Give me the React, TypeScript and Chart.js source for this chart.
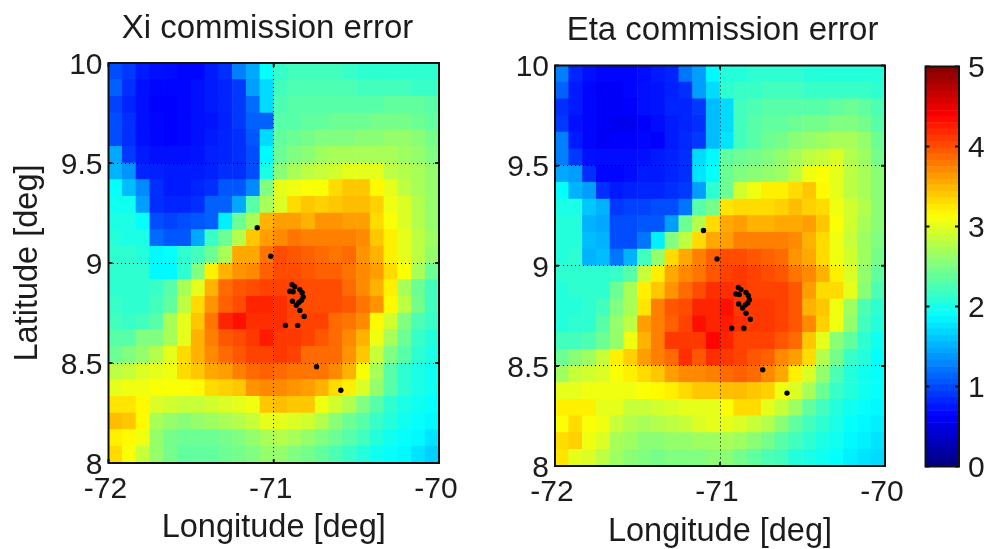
import React, { useEffect, useRef } from "react";
import { Chart, registerables } from "chart.js";

Chart.register(...registerables);

const lonCenters = [-71.958,-71.875,-71.792,-71.708,-71.625,-71.542,-71.458,-71.375,-71.292,-71.208,-71.125,-71.042,-70.958,-70.875,-70.792,-70.708,-70.625,-70.542,-70.458,-70.375,-70.292,-70.208,-70.125,-70.042];
const latEdges = [10,9.917,9.833,9.75,9.667,9.583,9.5,9.417,9.333,9.25,9.167,9.083,9,8.917,8.833,8.75,8.667,8.583,8.5,8.417,8.333,8.25,8.167,8.083,8];

const xiRows = [
[1.0,0.9,.75,.7,.68,.65,.65,.75,.85,1.25,1.45,1.9,2.15,2.2,2.2,2.2,2.2,2.15,2.1,2.1,2.1,2.1,2.1,2.1],
[1.1,.85,.7,.65,.65,.65,.7,.75,.8,.9,1.4,1.7,2.2,2.25,2.25,2.25,2.25,2.25,2.2,2.2,2.2,2.2,2.15,2.15],
[.95,.8,.7,.62,.62,.65,.7,.75,.8,.9,1.15,1.7,2.25,2.3,2.3,2.3,2.3,2.3,2.3,2.3,2.35,2.35,2.35,2.3],
[1.0,.85,.7,.65,.62,.65,.7,.72,.78,.9,1.1,1.1,2.3,2.3,2.35,2.35,2.4,2.4,2.4,2.45,2.45,2.45,2.4,2.35],
[1.0,.85,.7,.65,.62,.65,.7,.75,.8,.85,1.05,1.7,2.35,2.4,2.45,2.5,2.5,2.5,2.55,2.55,2.6,2.6,2.55,2.45],
[1.45,.9,.75,.7,.7,.7,.72,.78,.8,.85,1.0,1.85,2.4,2.5,2.55,2.65,2.7,2.7,2.7,2.7,2.7,2.65,2.6,2.5],
[1.5,1.35,.8,.78,.75,.75,.75,.78,.85,.85,1.0,2.0,2.55,2.7,2.8,2.85,2.9,3.0,3.0,3.0,2.8,2.75,2.7,2.6],
[1.9,1.55,1.3,.85,.75,.75,.8,.85,1.05,1.05,1.3,2.5,3.0,3.05,3.1,3.1,3.3,3.4,3.4,3.15,3.0,2.8,2.7,2.6],
[1.95,1.95,1.4,.85,.8,.8,.85,1.1,1.1,1.45,2.3,2.7,2.95,3.3,3.4,3.35,3.4,3.45,3.45,3.35,3.05,2.95,2.75,2.6],
[2.0,2.0,1.9,1.0,.95,1.0,1.05,1.1,1.8,2.4,2.7,3.5,3.6,3.6,3.5,3.65,3.65,3.6,3.6,3.3,3.1,2.95,2.75,2.6],
[2.05,2.0,2.0,1.15,1.05,1.05,1.45,2.15,2.4,2.75,3.4,3.6,3.7,3.8,3.75,3.75,3.75,3.75,3.7,3.4,3.2,3.0,2.8,2.65],
[2.1,2.1,2.05,1.85,1.9,2.1,2.2,2.4,2.7,3.55,3.55,3.8,4.0,3.95,3.9,3.85,3.8,3.85,3.65,3.5,3.2,3.0,2.8,2.6],
[2.1,2.1,2.1,1.85,1.85,2.1,2.5,3.2,3.5,3.65,3.7,3.9,4.0,4.0,3.95,3.9,3.9,3.8,3.7,3.6,3.3,3.1,2.7,2.4],
[2.1,2.1,2.1,2.15,2.3,2.7,3.0,3.5,3.85,3.95,4.0,4.05,4.05,4.05,4.0,4.0,4.0,3.85,3.7,3.5,3.2,2.7,2.4,2.2],
[2.15,2.1,2.1,2.2,2.35,2.8,3.3,3.65,3.9,4.0,4.2,4.2,4.15,4.05,4.0,4.0,4.0,3.95,3.8,3.65,3.15,2.8,2.45,2.2],
[2.2,2.15,2.2,2.3,2.7,3.0,3.4,3.8,4.2,4.3,4.15,4.15,4.15,4.05,4.05,4.05,3.85,3.8,3.7,3.15,2.9,2.5,2.25,2.15],
[2.3,2.3,2.5,2.5,2.7,3.0,3.5,3.75,3.95,4.0,4.1,4.25,4.1,4.1,4.05,3.95,3.85,3.7,3.5,3.05,2.7,2.4,2.15,2.05],
[2.4,2.5,2.6,2.75,3.0,3.3,3.5,3.7,3.85,3.95,4.05,4.05,4.1,4.05,3.85,3.85,3.85,3.65,3.4,2.85,2.5,2.3,2.1,2.0],
[2.8,2.85,2.95,3.0,3.05,3.3,3.4,3.55,3.6,3.75,3.85,3.9,3.85,3.8,3.8,3.8,3.7,3.5,3.1,2.7,2.3,2.1,2.0,1.95],
[3.0,3.05,3.05,3.1,3.1,3.1,3.15,3.3,3.35,3.4,3.65,3.7,3.7,3.65,3.6,3.5,3.3,3.2,2.95,2.6,2.3,2.1,2.0,1.95],
[3.25,3.25,3.15,2.95,2.9,2.85,2.85,2.9,2.95,3.0,3.05,3.4,3.45,3.4,3.4,3.05,2.9,2.75,2.5,2.3,2.1,2.0,1.95,1.9],
[3.45,3.4,3.15,2.7,2.6,2.55,2.6,2.65,2.7,2.75,2.85,3.0,3.0,2.95,2.9,2.75,2.55,2.4,2.3,2.15,2.05,1.95,1.9,1.85],
[3.2,3.15,3.05,2.6,2.45,2.4,2.4,2.4,2.45,2.5,2.6,2.7,2.75,2.7,2.6,2.5,2.4,2.3,2.2,2.05,1.95,1.9,1.85,1.75],
[3.3,3.1,2.85,2.6,2.45,2.35,2.35,2.35,2.4,2.45,2.5,2.6,2.6,2.5,2.45,2.35,2.25,2.15,2.05,1.95,1.9,1.85,1.75,1.65],
];

const etaRows = [
[1.25,.8,.7,.65,.65,.65,.68,.75,.8,1.2,1.4,1.85,2.05,2.05,2.1,2.1,2.1,2.1,2.05,2.05,2.05,2.05,2.05,2.05],
[1.1,.75,.65,.6,.6,.65,.7,.72,.78,.85,1.4,1.7,2.1,2.15,2.15,2.2,2.2,2.2,2.15,2.15,2.15,2.15,2.15,2.1],
[.85,.75,.65,.6,.6,.62,.7,.72,.8,.8,.9,1.55,1.7,2.2,2.25,2.3,2.3,2.3,2.3,2.3,2.35,2.4,2.35,2.25],
[.9,.7,.65,.6,.55,.55,.62,.68,.75,.8,.85,1.55,1.7,2.2,2.3,2.35,2.35,2.4,2.45,2.45,2.5,2.5,2.45,2.3],
[1.25,.75,.65,.58,.62,.62,.65,.62,.75,.82,.9,1.55,1.75,2.2,2.3,2.4,2.45,2.55,2.6,2.65,2.7,2.7,2.6,2.4],
[1.25,.9,.7,.68,.68,.68,.7,.75,.78,.85,1.7,1.85,2.35,2.4,2.45,2.5,2.6,2.7,2.8,2.85,2.95,2.75,2.65,2.45],
[1.45,1.4,.85,.65,.65,.68,.75,.75,.8,.85,1.75,1.9,2.4,2.5,2.55,2.6,2.65,2.8,3.05,3.1,3.0,2.8,2.7,2.55],
[1.9,1.5,1.4,.85,.75,.78,.8,.8,.85,.9,1.4,2.1,2.4,2.9,3.05,3.2,3.2,3.3,3.4,3.15,3.0,2.8,2.7,2.55],
[2.0,2.0,1.6,1.5,.9,.95,.95,1.0,1.0,1.2,2.3,2.45,3.25,3.3,3.3,3.3,3.35,3.45,3.35,3.3,3.05,2.9,2.75,2.55],
[2.05,2.05,1.5,1.45,1.0,1.0,1.05,1.05,1.4,2.4,2.75,3.3,3.55,3.6,3.5,3.5,3.55,3.55,3.6,3.4,3.1,2.9,2.7,2.55],
[2.05,2.05,1.55,1.5,1.0,1.0,1.2,1.8,2.5,2.8,3.3,3.55,3.6,3.75,3.75,3.75,3.75,3.7,3.5,3.3,3.05,2.85,2.65,2.5],
[2.05,2.1,1.5,1.55,1.2,1.5,2.2,2.6,3.3,3.55,3.75,3.9,4.0,4.0,3.95,3.9,3.85,3.65,3.55,3.3,3.05,2.9,2.65,2.45],
[2.1,2.1,2.1,2.1,2.15,2.3,2.85,3.2,3.55,3.7,3.8,3.95,4.05,4.1,4.05,4.0,3.95,3.8,3.7,3.5,3.2,2.95,2.6,2.35],
[2.05,2.1,2.1,2.1,2.4,2.7,3.2,3.4,3.65,3.85,4.0,4.15,4.15,4.1,4.05,4.05,4.05,3.95,3.6,3.3,3.3,3.0,2.55,2.25],
[2.05,2.05,2.1,2.2,2.5,2.7,3.25,3.75,3.95,4.0,4.2,4.2,4.3,4.1,4.1,4.1,4.05,3.95,3.5,3.4,3.05,2.65,2.25,2.1],
[2.05,2.1,2.1,2.3,2.6,2.8,3.6,3.75,3.9,4.05,4.3,4.2,4.25,4.15,4.1,4.1,4.05,3.95,3.7,3.35,3.05,2.6,2.2,2.05],
[2.2,2.2,2.25,2.4,2.6,3.05,3.5,3.75,4.1,4.1,4.1,4.35,4.2,4.05,4.05,4.05,3.95,3.85,3.4,3.0,2.55,2.35,2.1,1.95],
[2.4,2.55,2.65,2.85,3.2,3.35,3.6,3.75,3.85,4.15,3.95,4.15,4.1,4.05,3.95,3.9,3.7,3.6,3.3,2.75,2.45,2.15,2.05,1.9],
[2.65,2.85,2.9,2.95,3.1,3.2,3.3,3.4,3.6,3.7,3.7,3.75,3.85,3.9,3.85,3.7,3.55,3.2,2.95,2.6,2.25,2.05,1.95,1.9],
[3.0,3.0,3.05,3.05,3.05,3.05,3.1,3.15,3.2,3.3,3.4,3.4,3.45,3.45,3.4,3.35,3.05,2.95,2.7,2.4,2.15,2.05,1.95,1.9],
[3.2,3.2,3.2,3.0,3.0,2.85,2.85,2.9,2.95,3.0,3.0,3.0,3.1,3.3,3.3,3.0,2.85,2.65,2.35,2.2,2.05,1.95,1.9,1.85],
[3.1,3.3,3.1,3.05,2.85,2.75,2.7,2.75,2.8,2.85,2.95,3.0,3.0,2.95,2.85,2.75,2.55,2.35,2.2,2.1,2.0,1.9,1.85,1.8],
[3.3,3.35,3.05,2.95,2.7,2.65,2.55,2.55,2.6,2.6,2.65,2.65,2.7,2.65,2.55,2.45,2.3,2.2,2.1,2.0,1.95,1.85,1.8,1.75],
[3.25,3.0,2.95,2.8,2.65,2.55,2.5,2.45,2.5,2.5,2.5,2.55,2.55,2.45,2.35,2.25,2.2,2.05,2.0,1.95,1.9,1.8,1.75,1.7],
];

const stationLons = [-71.10,-71.018,-70.889,-70.873,-70.903,-70.883,-70.842,-70.828,-70.822,-70.832,-70.887,-70.847,-70.863,-70.842,-70.816,-70.929,-70.855,-70.741,-70.594];
const stationLats = [9.176,9.034,8.892,8.881,8.859,8.856,8.867,8.851,8.830,8.814,8.809,8.804,8.789,8.763,8.733,8.688,8.688,8.481,8.364];

const colorLevels = [0,0.08,0.16,0.23,0.31,0.39,0.47,0.55,0.63,0.70,0.78,0.86,0.94,1.02,1.09,1.17,1.25,1.33,1.41,1.48,1.56,1.64,1.72,1.80,1.88,1.95,2.03,2.11,2.19,2.27,2.34,2.42,2.50,2.58,2.66,2.73,2.81,2.89,2.97,3.05,3.13,3.20,3.28,3.36,3.44,3.52,3.59,3.67,3.75,3.83,3.91,3.98,4.06,4.14,4.22,4.30,4.38,4.45,4.53,4.61,4.69,4.77,4.84,4.92,5];

const FONT = "'Liberation Sans', Arial, sans-serif";
const INK = "#1c1c1c";
const TICK_SIZE = 30;
const LABEL_SIZE = 32.5;
const TITLE_SIZE = 33;

function jet(v: number): string {
  const t = Math.max(0, Math.min(1, v / 5));
  const c = (x: number) => Math.round(255 * Math.max(0, Math.min(1, 1.5 - Math.abs(4 * t - x))));
  return `rgb(${c(3)},${c(2)},${c(1)})`;
}

const framePlugin = {
  id: "frame",
  afterDraw(chart: any) {
    const { ctx, chartArea: a, scales } = chart;
    ctx.save();
    ctx.strokeStyle = "#111";
    ctx.lineWidth = 2;
    ctx.strokeRect(a.left, a.top, a.right - a.left, a.bottom - a.top);
    const tick = 4;
    const isBar = chart.options.plugins.frame?.colorbar;
    ctx.beginPath();
    scales.y.ticks.forEach((t: any) => {
      const y = scales.y.getPixelForValue(t.value);
      ctx.moveTo(a.left, y);
      ctx.lineTo(a.left + tick, y);
      ctx.moveTo(a.right, y);
      ctx.lineTo(a.right - tick, y);
    });
    if (!isBar) {
      scales.x.ticks.forEach((t: any) => {
        const x = scales.x.getPixelForValue(t.value);
        ctx.moveTo(x, a.top);
        ctx.lineTo(x, a.top + tick);
        ctx.moveTo(x, a.bottom);
        ctx.lineTo(x, a.bottom - tick);
      });
    }
    ctx.stroke();
    ctx.restore();
  },
};

type PanelProps = {
  left: number;
  width: number;
  plotLeft: number;
  plotRight: number;
  plotTop: number;
  plotBottom: number;
  title: string;
  titleCenterX: number;
  titleCenterY: number;
  rows: number[][];
  yTitle?: string;
  xTitleBottom: number;
};

function Panel(p: PanelProps) {
  const ref = useRef<HTMLCanvasElement>(null);
  useEffect(() => {
    const cells: any[] = [];
    const colors: string[] = [];
    p.rows.forEach((row, r) =>
      row.forEach((v, c) => {
        cells.push({ x: lonCenters[c], y: [latEdges[r + 1], latEdges[r]] });
        colors.push(jet(v));
      })
    );
    const lineH = 38;
    const titleTopPad = p.titleCenterY - lineH / 2;
    const titleBottomPad = p.plotTop - titleTopPad - lineH;
    const grid = { z: 1, color: "#000", lineWidth: 1, drawTicks: false, offset: false };
    const chart = new Chart(ref.current!, {
      type: "bar",
      data: {
        datasets: [
          {
            type: "scatter",
            data: stationLons.map((x, i) => ({ x, y: stationLats[i] })),
            backgroundColor: "#000",
            borderColor: "#000",
            pointRadius: 2.7,
            pointBorderWidth: 0,
            order: 0,
          } as any,
          {
            type: "bar",
            data: cells,
            backgroundColor: colors,
            barPercentage: 1,
            categoryPercentage: 1,
            borderWidth: 0,
            borderSkipped: false,
            order: 1,
          } as any,
        ],
      },
      options: {
        animation: false,
        responsive: false,
        layout: {
          padding: { left: 0, right: p.width - (p.plotRight - p.left), top: 0, bottom: 0 },
        },
        plugins: {
          legend: { display: false },
          tooltip: { enabled: false },
          title: {
            display: true,
            text: p.title,
            color: INK,
            font: { family: FONT, size: TITLE_SIZE, weight: "normal", lineHeight: lineH / TITLE_SIZE },
            padding: { top: titleTopPad, bottom: titleBottomPad },
          },
        },
        scales: {
          x: {
            type: "linear",
            min: -72,
            max: -70,
            offset: false,
            afterFit: (s: any) => {
              s.height = 549 - p.plotBottom;
            },
            border: { display: false, dash: [1, 3] },
            grid,
            ticks: {
              stepSize: 1,
              padding: 9,
              labelOffset: -3,
              color: INK,
              maxRotation: 0,
              font: { family: FONT, size: TICK_SIZE },
              callback: (v: any) => String(v),
            },
            title: {
              display: true,
              text: "Longitude [deg]",
              color: INK,
              font: { family: FONT, size: LABEL_SIZE, lineHeight: 1 },
              padding: { top: 0, bottom: p.xTitleBottom },
            },
          },
          y: {
            type: "linear",
            min: 8,
            max: 10,
            afterFit: (s: any) => {
              s.width = p.plotLeft - p.left;
            },
            border: { display: false, dash: [1, 3] },
            grid,
            ticks: {
              stepSize: 0.5,
              padding: 6,
              labelOffset: 2.5,
              color: INK,
              font: { family: FONT, size: TICK_SIZE },
              callback: (v: any) => String(v),
            },
            title: p.yTitle
              ? {
                  display: true,
                  text: p.yTitle,
                  color: INK,
                  font: { family: FONT, size: LABEL_SIZE, lineHeight: 1 },
                  padding: { top: 12, bottom: 0 },
                }
              : { display: false },
          },
        },
      } as any,
      plugins: [
        framePlugin,
        {
          id: "titlePlace",
          afterLayout(c: any) {
            const cx = p.titleCenterX - p.left;
            const half = Math.min(cx, p.width - cx);
            c.titleBlock.left = cx - half;
            c.titleBlock.right = cx + half;
          },
        },
      ],
    } as any);
    return () => chart.destroy();
  }, []);
  return (
    <canvas
      ref={ref}
      width={p.width}
      height={549}
      style={{ position: "absolute", left: p.left, top: 0, width: p.width, height: 549 }}
    />
  );
}

function ColorBar() {
  const ref = useRef<HTMLCanvasElement>(null);
  useEffect(() => {
    const levels = colorLevels.slice(0, -1);
    const chart = new Chart(ref.current!, {
      type: "bar",
      data: {
        labels: [""],
        datasets: levels.map((lo, i) => ({
          data: [[lo, colorLevels[i + 1]]],
          backgroundColor: jet(lo + 0.03),
          barPercentage: 1,
          categoryPercentage: 1,
          borderWidth: 0,
          grouped: false,
        })) as any,
      },
      options: {
        animation: false,
        responsive: false,
        layout: { padding: { left: 25.5, right: 0, top: 66.5, bottom: 82.5 } },
        plugins: {
          legend: { display: false },
          tooltip: { enabled: false },
          frame: { colorbar: true },
        },
        scales: {
          x: { display: false, stacked: false },
          y: {
            position: "right",
            min: 0,
            max: 5,
            afterFit: (s: any) => {
              s.width = 28;
            },
            border: { display: false },
            grid: { display: false, drawTicks: false },
            ticks: {
              stepSize: 1,
              padding: 9,
              labelOffset: 2,
              color: INK,
              font: { family: FONT, size: TICK_SIZE },
            },
          },
        },
      } as any,
      plugins: [framePlugin],
    } as any);
    return () => chart.destroy();
  }, []);
  return (
    <canvas
      ref={ref}
      width={87}
      height={549}
      style={{ position: "absolute", left: 900, top: 0, width: 87, height: 549 }}
    />
  );
}

export default function App() {
  return (
    <div style={{ position: "absolute", left: 0, top: 0, width: 987, height: 549, overflow: "hidden", background: "#fff" }}>
      <Panel
        left={0}
        width={480}
        plotLeft={108.5}
        plotRight={439}
        plotTop={63}
        plotBottom={463}
        title="Xi commission error"
        titleCenterX={267.5}
        titleCenterY={29}
        rows={xiRows}
        yTitle="Latitude [deg]"
        xTitleBottom={5}
      />
      <Panel
        left={480}
        width={460}
        plotLeft={555}
        plotRight={885}
        plotTop={65.5}
        plotBottom={466}
        title="Eta commission error"
        titleCenterX={722.5}
        titleCenterY={31}
        rows={etaRows}
        xTitleBottom={1}
      />
      <ColorBar />
    </div>
  );
}
